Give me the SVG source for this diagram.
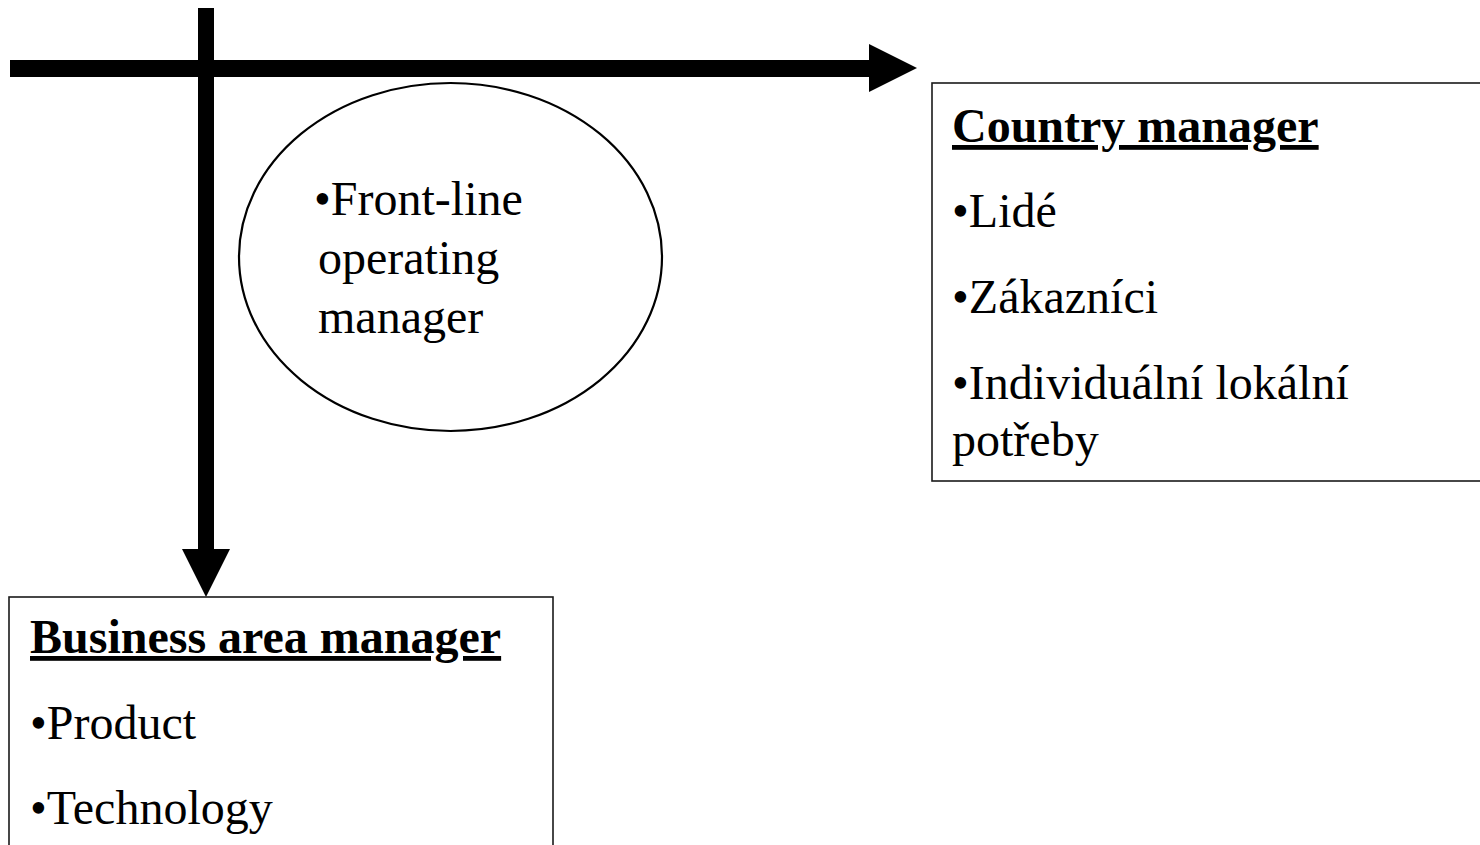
<svg xmlns="http://www.w3.org/2000/svg" width="1480" height="845" viewBox="0 0 1480 845">
<style>
  .t { font-family: "Liberation Serif", "Times New Roman", serif; font-size: 48px; fill: #000; }
  .h { font-weight: bold; text-decoration: underline; }
  .box { fill: #fff; stroke: #1a1a1a; stroke-width: 1.6; }
  .ell { fill: #fff; stroke: #000; stroke-width: 2.2; }
  .arrow { fill: #000; stroke: none; }
</style>
<rect width="1480" height="845" fill="#fff"/>
<g id="connectors">
  <path class="arrow" d="M10,60 H869 V44 L917,68 L869,92 V77 H10 Z"/>
  <path class="arrow" d="M198,8 H214 V549 H230 L206,597 L182,549 H198 Z"/>
</g>
<g id="front-line-operating-manager">
  <ellipse class="ell" cx="450.5" cy="257" rx="211.5" ry="174"/>
  <text class="t" x="314" y="215">•Front-line</text>
  <text class="t" x="318" y="274">operating</text>
  <text class="t" x="318" y="333">manager</text>
</g>
<g id="country-manager">
  <rect class="box" x="932" y="83" width="560" height="398"/>
  <text class="t h" x="952" y="142">Country manager</text>
  <text class="t" x="952" y="227">•Lidé</text>
  <text class="t" x="952" y="313">•Zákazníci</text>
  <text class="t" x="952" y="399">•Individuální lokální</text>
  <text class="t" x="952" y="456">potřeby</text>
</g>
<g id="business-area-manager">
  <rect class="box" x="9" y="597" width="544" height="260"/>
  <text class="t h" x="30" y="653">Business area manager</text>
  <text class="t" x="30" y="739">•Product</text>
  <text class="t" x="30" y="824">•Technology</text>
</g>
</svg>
